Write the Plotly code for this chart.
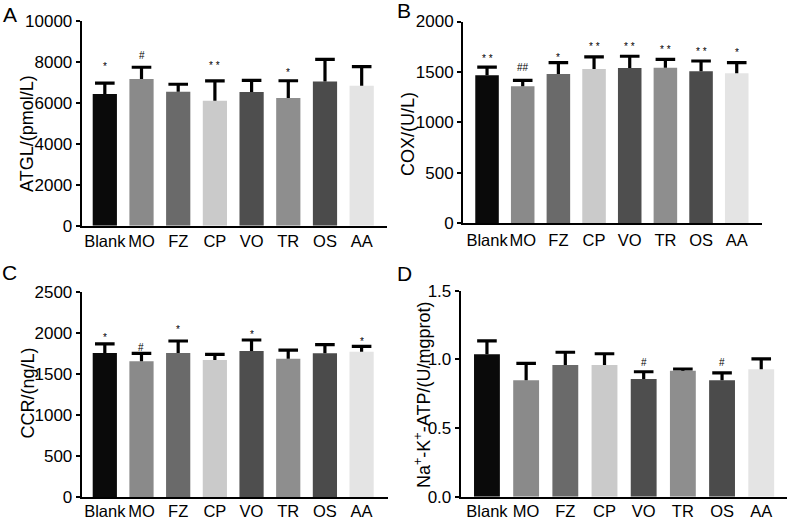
import plotly.graph_objects as go

groups = ["Blank", "MO", "FZ", "CP", "VO", "TR", "OS", "AA"]
colors = ["#0a0a0a", "#8a8a8a", "#6a6a6a", "#cacaca", "#4e4e4e", "#8e8e8e", "#4b4b4b", "#e4e4e4"]

# Panel A: ATGL
atgl_mean = [6420, 7160, 6540, 6100, 6520, 6230, 7040, 6830]
atgl_err = [530, 570, 360, 960, 570, 840, 1070, 930]
atgl_sig = ["*", "#", "", "* *", "", "*", "", ""]
atgl_sig_y = [7840, 8410, 0, 7890, 0, 7550, 0, 0]

# Panel B: COX
cox_mean = [1466, 1357, 1479, 1529, 1538, 1541, 1506, 1486]
cox_err = [82, 59, 112, 119, 117, 84, 102, 105]
cox_sig = ["* *", "##", "*", "* *", "* *", "* *", "* *", "*"]
cox_sig_y = [1651, 1561, 1667, 1774, 1774, 1744, 1720, 1717]

# Panel C: CCR
ccr_mean = [1760, 1658, 1760, 1674, 1784, 1690, 1756, 1776]
ccr_err = [110, 98, 146, 70, 134, 106, 105, 65]
ccr_sig = ["*", "#", "*", "", "*", "", "", "*"]
ccr_sig_y = [1971, 1849, 2068, 0, 2012, 0, 0, 1930]

# Panel D: Na+-K+-ATPase
atp_mean = [1.037, 0.848, 0.959, 0.959, 0.857, 0.918, 0.848, 0.928]
atp_err = [0.097, 0.123, 0.093, 0.082, 0.053, 0.012, 0.053, 0.075]
atp_sig = ["", "", "", "", "#", "", "#", ""]
atp_sig_y = [0, 0, 0, 0, 0.995, 0, 0.995, 0]

W, H = 791, 519

panels = [
    dict(mean=atgl_mean, err=atgl_err, sig=atgl_sig, sig_y=atgl_sig_y,
         xpx=(81.7, 387), ypx=(20.7, 225.7), yrange=[0, 10000], dtick=2000, fmt="d",
         title="ATGL/(pmol/L)", tx=27, ty=134, letter="A", lx=10, ly=14, xr=[-0.63, 7.69], so=-1),
    dict(mean=cox_mean, err=cox_err, sig=cox_sig, sig_y=cox_sig_y,
         xpx=(463, 761.7), ypx=(21.5, 223), yrange=[0, 2000], dtick=500, fmt="d",
         title="COX/(U/L)", tx=407.5, ty=134.5, letter="B", lx=404, ly=11, xr=[-0.674, 7.70], so=1),
    dict(mean=ccr_mean, err=ccr_err, sig=ccr_sig, sig_y=ccr_sig_y,
         xpx=(81.7, 388), ypx=(292.3, 497.3), yrange=[0, 2500], dtick=500, fmt="d",
         title="CCR/(ng/L)", tx=27, ty=393.5, letter="C", lx=9, ly=272, xr=[-0.63, 7.72], so=-2),
    dict(mean=atp_mean, err=atp_err, sig=atp_sig, sig_y=atp_sig_y,
         xpx=(460.7, 786.7), ypx=(290.7, 496.7), yrange=[0, 1.5], dtick=0.5, fmt=".1f",
         title="Na<sup>+</sup>-K<sup>+</sup>-ATP/(U/mgprot)", tx=422, ty=395, letter="D", lx=404, ly=273, xr=[-0.67, 7.65], so=-2),
]

FONT = "Liberation Sans, Arial, sans-serif"
fig = go.Figure()
annotations = []
layout = {}
for i, p in enumerate(panels, start=1):
    xa = "x" if i == 1 else f"x{i}"
    ya = "y" if i == 1 else f"y{i}"
    fig.add_trace(go.Bar(
        x=groups, y=p["mean"], marker=dict(color=colors, line=dict(width=0)),
        xaxis=xa, yaxis=ya, showlegend=False, width=0.66,
    ))
    tops = [m + e for m, e in zip(p["mean"], p["err"])]
    fig.add_trace(go.Scatter(
        x=groups, y=tops, mode="markers", xaxis=xa, yaxis=ya, showlegend=False,
        marker=dict(symbol="line-ew", size=14, line=dict(width=3.2, color="black"), color="black"),
        error_y=dict(type="data", symmetric=False, array=[0] * len(tops), arrayminus=p["err"],
                     thickness=3.2, width=0, color="black"),
    ))
    for g, s, sy in zip(groups, p["sig"], p["sig_y"]):
        if s:
            annotations.append(dict(x=g, y=sy, xref=xa, yref=ya, text=s, showarrow=False,
                                    font=dict(size=10, color="black", family=FONT),
                                    yanchor="middle", yshift=-2))
    x0, x1 = p["xpx"]
    y0, y1 = p["ypx"]
    layout["xaxis" if i == 1 else f"xaxis{i}"] = dict(
        domain=[x0 / W, x1 / W], anchor=ya, range=p["xr"], type="category",
        showline=True, linewidth=2, linecolor="black", ticks="", showgrid=False,
        tickangle=0, automargin=False,
        tickfont=dict(size=16.5, color="black", family=FONT), ticklabelstandoff=p["so"],
    )
    layout["yaxis" if i == 1 else f"yaxis{i}"] = dict(
        domain=[1 - y1 / H, 1 - y0 / H], anchor=xa, range=p["yrange"], dtick=p["dtick"],
        tickformat=p["fmt"], showline=True, linewidth=2, linecolor="black", ticks="outside",
        ticklen=4, tickwidth=2, tickcolor="black", showgrid=False, zeroline=False,
        automargin=False, tickfont=dict(size=17, color="black", family=FONT),
    )
    annotations.append(dict(x=p["tx"] / W, y=1 - p["ty"] / H, xref="paper", yref="paper",
                            text=p["title"], textangle=-90, showarrow=False,
                            font=dict(size=18, color="black", family=FONT),
                            xanchor="center", yanchor="middle"))
    annotations.append(dict(x=p["lx"] / W, y=1 - p["ly"] / H, xref="paper", yref="paper",
                            text=p["letter"], showarrow=False,
                            font=dict(size=21, color="black", family=FONT),
                            xanchor="center", yanchor="middle"))

fig.update_layout(
    width=W, height=H, margin=dict(l=0, r=0, t=0, b=0, autoexpand=False),
    paper_bgcolor="white", plot_bgcolor="white",
    annotations=annotations, **layout,
)
fig.write_html("out.html", config={"displayModeBar": False},
               post_script="document.body.style.margin='0';document.body.style.overflow='hidden';")
